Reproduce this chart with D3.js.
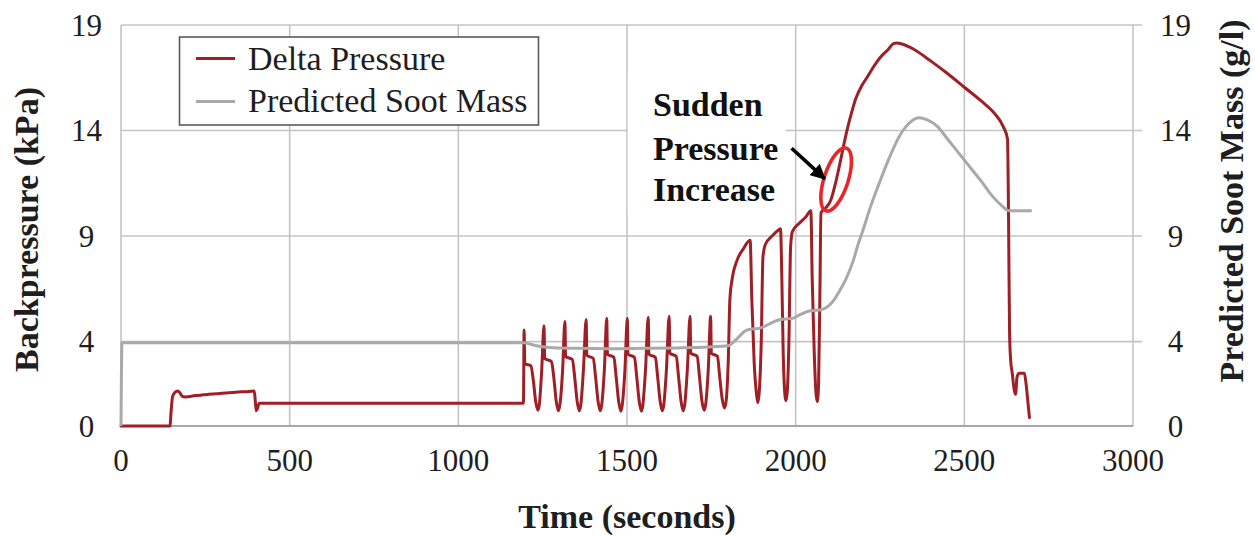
<!DOCTYPE html>
<html>
<head>
<meta charset="utf-8">
<script src="https://cdn.jsdelivr.net/npm/d3@7"></script>
<style>
  html, body { margin: 0; padding: 0; background: #fff; }
  svg { display: block; }
</style>
</head>
<body>
<svg id="chart" width="1255" height="537" font-family="Liberation Serif"></svg>
<script>
// Delta pressure across the filter, [time (s), kPa]
const deltaPressure = [
  [0, 0], [145, 0], [149, 0.8], [153, 1.4], [160, 1.6], [168, 1.66], [175, 1.56], [182, 1.4],
  [190, 1.38], [220, 1.44], [260, 1.5], [300, 1.55], [340, 1.6], [380, 1.64], [395, 1.66],
  [398, 1.2], [401, 0.72], [405, 0.85], [409, 1.08], [1193, 1.08],
  [1195, 4.55], [1197, 2.95], [1215, 2.85], [1222, 2.2], [1229, 1.2], [1236, 0.75], [1240, 1.0], [1247, 2.6],
  [1254, 4.75], [1256, 3.2], [1276, 3.05], [1283, 2.3], [1290, 1.2], [1297, 0.72], [1301, 1.0], [1309, 2.6],
  [1316, 4.95], [1318, 3.3], [1338, 3.15], [1345, 2.3], [1352, 1.2], [1359, 0.72], [1363, 1.0], [1371, 2.7],
  [1379, 5.05], [1381, 3.35], [1400, 3.2], [1407, 2.3], [1414, 1.2], [1421, 0.72], [1425, 1.0], [1433, 2.7],
  [1440, 5.1], [1442, 3.4], [1461, 3.25], [1468, 2.3], [1475, 1.2], [1482, 0.7], [1486, 1.0], [1494, 2.7],
  [1501, 5.1], [1503, 3.4], [1522, 3.25], [1529, 2.3], [1536, 1.2], [1543, 0.7], [1547, 1.0], [1555, 2.7],
  [1563, 5.15], [1565, 3.4], [1584, 3.25], [1591, 2.3], [1598, 1.2], [1605, 0.72], [1609, 1.0], [1617, 2.7],
  [1625, 5.2], [1627, 3.45], [1646, 3.3], [1653, 2.3], [1660, 1.2], [1667, 0.72], [1671, 1.0], [1679, 2.7],
  [1687, 5.2], [1689, 3.45], [1708, 3.3], [1715, 2.3], [1722, 1.2], [1729, 0.75], [1733, 1.0], [1741, 2.7],
  [1748, 5.2], [1750, 3.45], [1768, 3.3], [1775, 2.3], [1782, 1.3], [1789, 0.85], [1794, 1.2], [1800, 3.0],
  [1805, 6.0], [1812, 7.0], [1825, 7.8], [1845, 8.4], [1865, 8.8],
  [1870, 6.0], [1877, 3.0], [1884, 1.5], [1888, 1.1], [1892, 1.6], [1898, 4.0], [1903, 8.0],
  [1910, 8.6], [1930, 9.0], [1950, 9.3], [1955, 9.35],
  [1959, 7.0], [1963, 3.5], [1968, 1.5], [1971, 1.2], [1975, 1.6], [1980, 4.0], [1985, 8.5],
  [1990, 9.2], [2010, 9.6], [2030, 9.9], [2045, 10.2],
  [2049, 7.0], [2055, 3.5], [2060, 1.6], [2064, 1.15], [2068, 2.0], [2072, 6.5],
  [2075, 10.1], [2090, 10.35], [2104, 10.7], [2118, 11.5], [2132, 12.5], [2145, 13.5], [2155, 14.2],
  [2165, 14.8], [2178, 15.5], [2195, 16.1], [2211, 16.5], [2230, 17.0], [2250, 17.45], [2275, 17.85],
  [2290, 18.12], [2300, 18.15], [2315, 18.1], [2350, 17.85], [2400, 17.3], [2450, 16.7], [2500, 16.05],
  [2550, 15.4], [2590, 14.8], [2615, 14.2], [2628, 13.6],
  [2631, 10.0], [2634, 4.5], [2637, 3.2], [2642, 2.5], [2648, 1.7], [2652, 1.5], [2656, 2.3],
  [2662, 2.5], [2678, 2.5], [2683, 2.0], [2688, 1.2], [2693, 0.4]
];

// Predicted soot mass, [time (s), g/l]
const sootMass = [
  [0, 0], [3, 3.95], [1195, 3.95], [1215, 3.87], [1240, 3.78], [1270, 3.72], [1350, 3.68], [1450, 3.66],
  [1550, 3.68], [1650, 3.7], [1740, 3.74], [1800, 3.8], [1810, 3.9], [1830, 4.2], [1850, 4.5],
  [1870, 4.6], [1890, 4.62], [1905, 4.7], [1930, 4.9], [1955, 5.05], [1990, 5.1], [2010, 5.25],
  [2040, 5.45], [2070, 5.5], [2090, 5.6], [2110, 5.9], [2130, 6.4], [2150, 7.0], [2170, 7.8],
  [2185, 8.6], [2200, 9.3], [2220, 10.3], [2250, 11.6], [2280, 12.8], [2310, 13.8], [2340, 14.4],
  [2365, 14.6], [2390, 14.5], [2420, 14.2], [2450, 13.6], [2490, 12.8], [2520, 12.2], [2550, 11.6],
  [2580, 10.95], [2610, 10.45], [2632, 10.2], [2700, 10.2]
];

const timeTicks = [0, 500, 1000, 1500, 2000, 2500, 3000];
const pressureTicks = [0, 4, 9, 14, 19];
const sootTicks = [0, 4, 9, 14, 19];
const seriesNames = ["Delta Pressure", "Predicted Soot Mass"];
const noteLines = ["Sudden", "Pressure", "Increase"];

const colors = { pressure: "#9e1f25", soot: "#a9a9a9", grid: "#c4c4c4", text: "#1e1e1e", ring: "#e8262a" };

const svg = d3.select("#chart");
const plot = { left: 121, right: 1133, top: 25, bottom: 426 };

const x = d3.scaleLinear().domain([0, 3000]).range([plot.left, plot.right]);
const y = d3.scaleLinear().domain([0, 19]).range([plot.bottom, plot.top]);
const y2 = d3.scaleLinear().domain([0, 19]).range([plot.bottom, plot.top]);

// Horizontal gridlines, running out past the right edge as tick marks
svg.append("g").selectAll("line").data(pressureTicks.filter(d => d > 0)).join("line")
  .attr("x1", x(0)).attr("x2", x(3000) + 9)
  .attr("y1", d => y(d)).attr("y2", d => y(d))
  .attr("stroke", colors.grid).attr("stroke-width", 1.6);

// Vertical gridlines
svg.append("g").selectAll("line").data(timeTicks).join("line")
  .attr("x1", d => x(d)).attr("x2", d => x(d))
  .attr("y1", y(0)).attr("y2", y(19))
  .attr("stroke", colors.grid).attr("stroke-width", 1.6);

// Bottom axis line
svg.append("line")
  .attr("x1", x(0)).attr("x2", x(3000)).attr("y1", y(0)).attr("y2", y(0))
  .attr("stroke", "#a8a8a8").attr("stroke-width", 2.2);

// Tick labels
const tickText = sel => sel.style("font-size", "31px")
  .attr("fill", colors.text).attr("text-anchor", "middle");

svg.append("g").selectAll("text").data(timeTicks).join("text")
  .call(tickText)
  .attr("x", d => x(d)).attr("y", 471)
  .text(d => d);

svg.append("g").selectAll("text").data(pressureTicks).join("text")
  .call(tickText)
  .attr("x", 86.5).attr("y", d => y(d)).attr("dy", "0.34em")
  .text(d => d);

svg.append("g").selectAll("text").data(sootTicks).join("text")
  .call(tickText)
  .attr("x", 1175.5).attr("y", d => y2(d)).attr("dy", "0.34em")
  .text(d => d);

// Axis titles
const titleStyle = sel => sel.style("font-size", "34px")
  .style("font-weight", "bold").attr("fill", colors.text).attr("text-anchor", "middle");

svg.append("text").call(titleStyle)
  .attr("x", (plot.left + plot.right) / 2).attr("y", 528)
  .text("Time (seconds)");

svg.append("text").call(titleStyle)
  .attr("transform", "translate(38,229.5) rotate(-90)")
  .text("Backpressure (kPa)");

svg.append("text").call(titleStyle)
  .attr("transform", "translate(1243,201) rotate(-90)")
  .text("Predicted Soot Mass (g/l)");

// Annotation text block on a white panel
const noteX = 1577;
const noteBaselines = [14.7, 12.6, 10.66];
svg.append("rect")
  .attr("x", x(1502)).attr("y", y(16.7))
  .attr("width", x(1970) - x(1502)).attr("height", y(10.0) - y(16.7))
  .attr("fill", "#fff");
svg.append("g").selectAll("text").data(noteLines).join("text")
  .attr("x", x(noteX)).attr("y", (d, i) => y(noteBaselines[i]))
  .style("font-size", "34px").style("font-weight", "bold")
  .attr("fill", "#111")
  .text(d => d);

// Data lines
const line = d3.line().x(d => x(d[0])).curve(d3.curveMonotoneX);

svg.append("path").datum(deltaPressure)
  .attr("d", line.y(d => y(d[1])))
  .attr("fill", "none").attr("stroke", colors.pressure).attr("stroke-width", 3)
  .attr("stroke-linejoin", "round").attr("stroke-linecap", "round");

svg.append("path").datum(sootMass)
  .attr("d", line.y(d => y2(d[1])))
  .attr("fill", "none").attr("stroke", colors.soot).attr("stroke-width", 3)
  .attr("stroke-linejoin", "round");

// Highlight ring around the sudden rise
const ring = { time: 2120, kPa: 11.68 };
svg.append("ellipse")
  .attr("transform", `translate(${x(ring.time)},${y(ring.kPa)}) rotate(18)`)
  .attr("rx", 12).attr("ry", 33)
  .attr("fill", "none").attr("stroke", colors.ring).attr("stroke-width", 3.6);

// Arrow from the note to the ring
const arrowFrom = { time: 1988, kPa: 13.16 };
const arrowTo = { time: 2086, kPa: 11.72 };
svg.append("defs").append("marker")
  .attr("id", "head").attr("viewBox", "0 0 10 10").attr("refX", 9).attr("refY", 5)
  .attr("markerWidth", 4.2).attr("markerHeight", 4.2).attr("orient", "auto")
  .append("path").attr("d", "M0,0 L10,5 L0,10 z").attr("fill", "#000");
svg.append("line")
  .attr("x1", x(arrowFrom.time)).attr("y1", y(arrowFrom.kPa))
  .attr("x2", x(arrowTo.time)).attr("y2", y(arrowTo.kPa))
  .attr("stroke", "#000").attr("stroke-width", 3.6)
  .attr("marker-end", "url(#head)");

// Legend
const legend = svg.append("g");
legend.append("rect")
  .attr("x", 179.5).attr("y", 37).attr("width", 359).attr("height", 88)
  .attr("fill", "#fff").attr("stroke", "#5a5a5a").attr("stroke-width", 1.6);
const legendRows = [
  { name: seriesNames[0], color: colors.pressure, ly: 58.5, ty: 70 },
  { name: seriesNames[1], color: colors.soot, ly: 101.5, ty: 112 }
];
legendRows.forEach(r => {
  legend.append("line").attr("x1", 196).attr("x2", 235).attr("y1", r.ly).attr("y2", r.ly)
    .attr("stroke", r.color).attr("stroke-width", 3);
  legend.append("text").attr("x", 248).attr("y", r.ty)
    .style("font-size", "34px").attr("fill", colors.text)
    .text(r.name);
});
</script>
</body>
</html>
